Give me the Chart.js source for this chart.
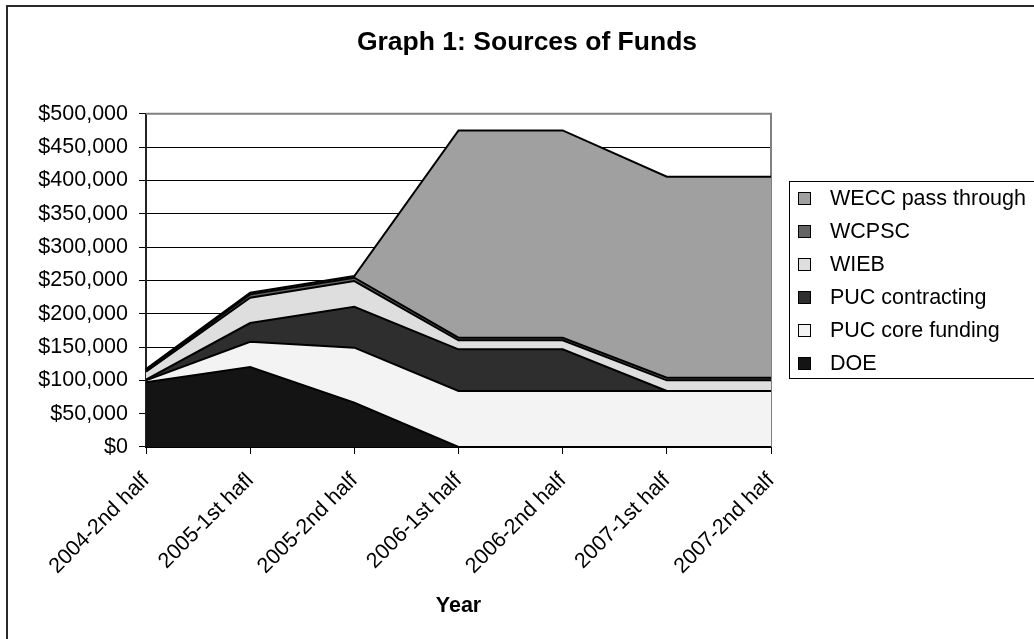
<!DOCTYPE html>
<html>
<head>
<meta charset="utf-8">
<script src="https://cdn.jsdelivr.net/npm/chart.js@4"></script>
<style>
  html, body { margin: 0; padding: 0; background: #fff; overflow: hidden; }
  body { width: 1034px; height: 639px; position: relative; font-family: "Liberation Sans", Arial, sans-serif; }
  #frame { position: absolute; left: 6px; top: 5px; width: 1100px; height: 700px; border: 2px solid #2a2a2a; }
  #chart { position: absolute; left: 8px; top: 7px; }
  #legend { position: absolute; left: 789px; top: 181px; width: 270px; height: 196px; border: 1px solid #000; background: #fff; }
  .item { position: absolute; left: 0; height: 33px; line-height: 33px; font-size: 21.5px; color: #000; white-space: nowrap; }
  .item .box { position: absolute; left: 8px; top: 10px; width: 11px; height: 11px; border: 1px solid #000; }
  .item .txt { position: absolute; left: 40px; top: 0; }
</style>
</head>
<body>
<div id="frame"></div>
<canvas id="chart" width="1038" height="632"></canvas>
<div id="legend"></div>
<script>
// 카테고리 / 시리즈 값 (아래에서 위로 쌓이는 순서)
const categories = ['2004-2nd half', '2005-1st hafl', '2005-2nd half', '2006-1st half', '2006-2nd half', '2007-1st half', '2007-2nd half'];
const doe            = [97000, 120000, 66500, 0, 0, 0, 0];
const pucCore        = [3000, 38000, 82500, 84000, 84000, 84000, 84000];
const pucContracting = [1000, 28000, 61500, 62500, 62500, 0, 0];
const wieb           = [12000, 38000, 38500, 13500, 13500, 16000, 16000];
const wcpsc          = [2000, 5000, 5000, 4000, 4000, 4000, 4000];
const wecc           = [2000, 2500, 2500, 311000, 311000, 301500, 301500];
const seriesNames    = ['DOE', 'PUC core funding', 'PUC contracting', 'WIEB', 'WCPSC', 'WECC pass through'];
const yTicks         = [0, 50000, 100000, 150000, 200000, 250000, 300000, 350000, 400000, 450000, 500000];

(function () {
  const FONT = '"Liberation Sans", Arial, sans-serif';
  const fills = ['#141414', '#f3f3f3', '#2e2e2e', '#dedede', '#646464', '#a0a0a0'];
  const values = [doe, pucCore, pucContracting, wieb, wcpsc, wecc];

  function fmt(v) { return '$' + v.toLocaleString('en-US'); }

  // 플롯 영역 위/오른쪽 회색 테두리
  const plotBorder = {
    id: 'plotBorder',
    beforeDatasetsDraw(chart) {
      const a = chart.chartArea, c = chart.ctx;
      c.save();
      c.strokeStyle = '#808080';
      c.lineWidth = 2;
      c.beginPath();
      c.moveTo(a.left, a.top);
      c.lineTo(a.right, a.top);
      c.lineTo(a.right, a.bottom);
      c.stroke();
      c.restore();
    }
  };

  const datasets = values.map((data, i) => ({
    label: seriesNames[i],
    data,
    backgroundColor: fills[i],
    borderColor: '#000',
    borderWidth: 2,
    pointRadius: 0,
    tension: 0,
    fill: i === 0 ? 'origin' : '-1'
  }));

  new Chart(document.getElementById('chart'), {
    type: 'line',
    data: { labels: categories, datasets },
    plugins: [plotBorder],
    options: {
      responsive: false,
      animation: false,
      devicePixelRatio: 1,
      layout: { padding: { left: 0, right: 0, top: 14, bottom: 20 } },
      plugins: {
        legend: { display: false },
        tooltip: { enabled: false },
        title: {
          display: true,
          text: 'Graph 1: Sources of Funds',
          color: '#000',
          font: { family: FONT, size: 26.5, weight: 'bold' },
          padding: { top: 6, bottom: 55 }
        }
      },
      scales: {
        x: {
          offset: false,
          grid: { drawOnChartArea: false, drawTicks: true, tickLength: 7, color: '#000', tickColor: '#000' },
          border: { color: '#000', width: 2 },
          ticks: { color: '#000', font: { family: FONT, size: 21.5 }, minRotation: 45, maxRotation: 45, autoSkip: false, padding: 14 },
          title: { display: true, text: 'Year', color: '#000', font: { family: FONT, size: 21.5, weight: 'bold' }, padding: { top: 0, bottom: 0 } }
        },
        y: {
          stacked: true,
          min: 0,
          max: 500000,
          afterBuildTicks(axis) { axis.ticks = yTicks.map(v => ({ value: v })); },
          afterFit(axis) { axis.width = 138; },
          grid: {
            color: ctx => (ctx.tick && ctx.tick.value === 500000 ? '#808080' : '#000'),
            tickColor: '#000',
            tickLength: 7,
            lineWidth: 1
          },
          border: { color: '#222', width: 2 },
          ticks: { color: '#000', font: { family: FONT, size: 21.5 }, padding: 11, callback: v => fmt(v) }
        },
        // 범례 자리를 비워두는 빈 축
        space: {
          type: 'linear',
          position: 'right',
          display: true,
          afterFit(axis) { axis.width = 275; },
          grid: { display: false },
          border: { display: false },
          ticks: { display: false }
        }
      }
    }
  });

  // 범례 (위에서부터 역순)
  const legend = document.getElementById('legend');
  for (let k = seriesNames.length - 1, row = 0; k >= 0; k--, row++) {
    const it = document.createElement('div');
    it.className = 'item';
    it.style.top = (row * 33) + 'px';
    it.innerHTML = `<span class="box" style="background:${fills[k]}"></span><span class="txt">${seriesNames[k]}</span>`;
    legend.appendChild(it);
  }
})();
</script>
</body>
</html>
